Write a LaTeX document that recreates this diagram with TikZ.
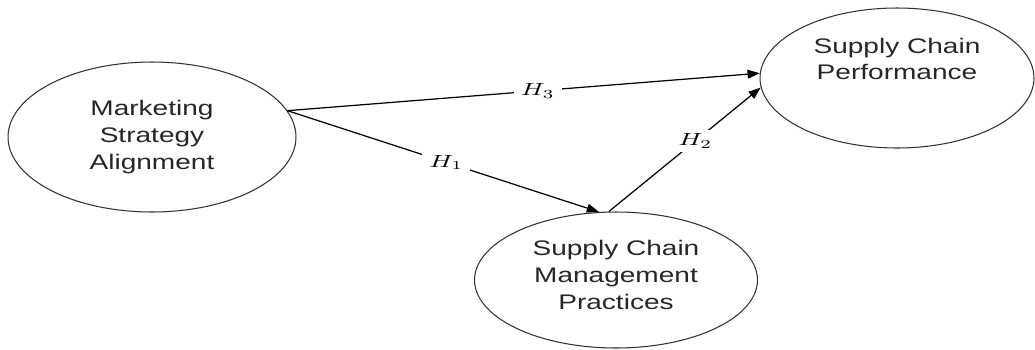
\documentclass[tikz,border=0pt]{standalone}
\usepackage{graphicx}
\usepackage[no-math]{fontspec}
\setmainfont{Liberation Sans}[FakeStretch=1.33]
\newcommand{\hlabel}[1]{\scalebox{1.5}[1]{$#1$}}
\usetikzlibrary{shapes.geometric,arrows.meta}
\begin{document}
\begin{tikzpicture}[x=0.02cm,y=-0.02cm,
        construct/.style={ellipse,draw=black!80,line width=0.6pt,inner sep=0pt},
        caption/.style={align=center,text=black!85,font=\fontsize{12}{15.3}\selectfont},
        hyp/.style={-{Triangle[length=7pt,width=5pt]},line width=0.7pt},
        tag/.style={fill=white,inner xsep=4pt,inner ysep=2pt,font=\fontsize{10}{12}\selectfont}]
    \useasboundingbox (0,0) rectangle (1035,349);
    \node[construct,caption,minimum width=5.76cm,minimum height=3cm] (msa) at (152,137) {Marketing\\Strategy\\Alignment};
    \node[construct,minimum width=5.48cm,minimum height=2.8cm] (perf) at (897,78) {};
    \node[caption] (perftext) at (897,59) {Supply Chain\\Performance};
    \node[construct,minimum width=5.66cm,minimum height=2.72cm] (scm) at (616,280) {};
    \node[caption] (scmtext) at (616,275) {Supply Chain\\Management\\Practices};
    \draw[hyp] (msa.11) -- node[tag,pos=0.53] (h3) {\hlabel{H_3}} (perf.178);
    \draw[hyp] (msa.11) -- node[tag,pos=0.51] (h1) {\hlabel{H_1}} (scm.104);
    \draw[hyp] (scm.96) -- node[tag,pos=0.57] (h2) {\hlabel{H_2}} (perf.184);
\end{tikzpicture}
\end{document}
